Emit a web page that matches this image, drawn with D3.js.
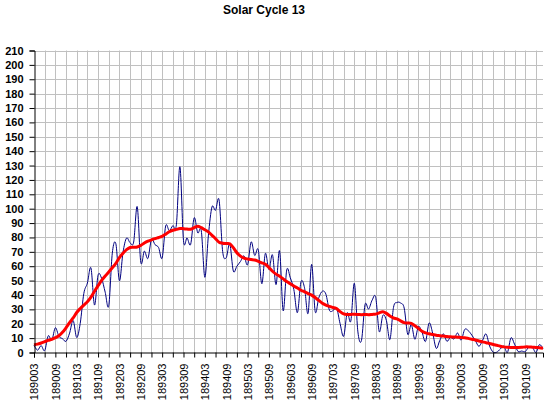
<!DOCTYPE html>
<html>
<head>
<meta charset="utf-8">
<script src="https://cdn.jsdelivr.net/npm/d3@7"></script>
<style>
  body { margin: 0; background: #fff; }
  text { font-family: "Liberation Sans", Arial, sans-serif; }
</style>
</head>
<body>
<div id="chart"></div>
<script>
// monthly sunspot numbers, 1890-03 .. 1902-02
const monthly = [
  5.1, 1.6, 4.8, 1.3, 11.6, 8.5, 17.2, 11.2, 9.6, 7.8,
  13.5, 22.2, 10.4, 20.5, 41.1, 48.3, 58.8, 33.0, 53.8, 51.5, 41.9, 32.5,
  69.1, 75.6, 49.9, 69.6, 79.6, 76.3, 76.8, 101.4, 62.8, 70.5, 65.4, 78.6,
  75.0, 73.0, 65.7, 88.1, 84.7, 88.2, 88.8, 129.2, 77.9, 79.7, 75.1, 93.7,
  83.2, 84.6, 52.3, 81.6, 101.2, 98.9, 106.0, 70.3, 65.9, 75.5, 56.6, 60.0,
  63.3, 67.2, 61.0, 76.9, 67.5, 71.5, 47.8, 68.9, 57.7, 67.9, 47.2, 70.7,
  29.0, 57.4, 52.0, 43.8, 27.7, 49.0, 45.0, 27.2, 61.3, 28.4, 38.0, 42.6,
  40.6, 29.4, 29.1, 31.0, 20.0, 11.3, 27.6, 21.8, 48.1, 14.3, 8.4, 33.3,
  30.2, 36.4, 38.3, 14.5, 25.8, 22.3, 9.0, 31.4, 34.8, 34.4, 30.9, 12.6,
  19.5, 9.2, 18.1, 14.2, 7.7, 20.5, 13.5, 2.9, 8.4, 13.0, 7.8, 10.5,
  9.4, 13.6, 8.6, 16.0, 15.2, 12.1, 8.3, 4.3, 8.3, 12.9, 4.5, 0.3,
  0.2, 2.4, 4.5, 0.0, 10.2, 5.8, 0.7, 1.0, 0.6, 3.7, 3.8, 0.0,
  5.5, 2.7
];

// 13-month smoothed values, same months
const smoothed = [
  5.3, 5.8, 6.6, 7.5, 8.4, 9.2, 10.3, 11.6, 14.0, 17.2,
  20.8, 24.0, 27.8, 30.6, 33.0, 35.3, 38.5, 42.6, 46.4, 50.1, 53.2, 56.0,
  58.9, 62.0, 66.0, 69.0, 71.5, 73.0, 73.2, 73.4, 74.5, 76.1, 77.4, 78.3,
  79.2, 80.0, 80.8, 82.3, 84.0, 85.0, 85.6, 86.2, 86.1, 85.8, 85.7, 86.8,
  87.8, 86.8, 85.3, 83.9, 81.5, 79.2, 76.6, 76.0, 75.8, 75.6, 72.9, 69.4,
  67.0, 65.6, 65.0, 64.6, 64.3, 63.4, 62.4, 61.3, 59.1, 56.5, 54.5, 53.0,
  51.2, 49.3, 47.8, 46.2, 44.8, 43.3, 42.2, 41.0, 39.9, 38.2, 36.2, 34.3,
  33.0, 32.1, 31.3, 30.5, 28.4, 26.8, 26.4, 26.5, 26.6, 26.5, 26.3, 26.4,
  26.3, 26.5, 26.7, 27.6, 28.3, 27.2, 25.4, 24.0, 23.4, 22.0, 20.8, 20.5,
  20.2, 18.6, 16.8, 14.8, 13.6, 13.0, 12.5, 12.0, 11.7, 11.4, 11.1, 10.9,
  10.8, 10.6, 10.5, 10.3, 9.8, 9.2, 8.7, 8.0, 7.4, 6.8, 6.3, 5.6,
  5.0, 4.4, 3.9, 3.6, 3.5, 3.5, 3.5, 3.6, 3.9, 3.9, 3.7, 3.5,
  3.3, 3.0
];

// labels shown every 6 months
const tickLabels = [
  "189003", "189009", "189103", "189109", "189203", "189209",
  "189303", "189309", "189403", "189409", "189503", "189509",
  "189603", "189609", "189703", "189709", "189803", "189809",
  "189903", "189909", "190003", "190009", "190103", "190109"
];

const yTicks = d3.range(0, 211, 10);

const W = 551, H = 413;
const margin = { top: 50, right: 8, bottom: 61, left: 34 };

const svg = d3.select("#chart").append("svg")
  .attr("width", W)
  .attr("height", H);

const x = d3.scaleLinear()
  .domain([0, monthly.length - 1])
  .range([margin.left, W - margin.right]);

const y = d3.scaleLinear()
  .domain([0, 210])
  .range([H - margin.bottom + 0.5, margin.top + 0.5]);

// title
svg.append("text")
  .attr("x", 264)
  .attr("y", 13.5)
  .attr("text-anchor", "middle")
  .style("font-size", "12px")
  .style("font-weight", "bold")
  .text("Solar Cycle 13");

// grid
const xTickIdx = d3.range(0, monthly.length, 3);

svg.append("g")
  .selectAll("line")
  .data(yTicks.slice(1))
  .join("line")
  .attr("x1", margin.left)
  .attr("x2", W - margin.right)
  .attr("y1", d => Math.round(y(d)) + 0.5)
  .attr("y2", d => Math.round(y(d)) + 0.5)
  .attr("stroke", "#c0c0c0");

svg.append("g")
  .selectAll("line")
  .data(xTickIdx.slice(1))
  .join("line")
  .attr("x1", d => Math.round(x(d)) + 0.5)
  .attr("x2", d => Math.round(x(d)) + 0.5)
  .attr("y1", y(210))
  .attr("y2", y(0))
  .attr("stroke", "#c0c0c0");

// lines
const line = d3.line()
  .x((d, i) => x(i))
  .y(d => y(d))
  .curve(d3.curveCardinal.tension(0));

svg.append("path")
  .datum(monthly)
  .attr("fill", "none")
  .attr("stroke", "#000080")
  .attr("stroke-width", 1)
  .attr("d", line);

svg.append("path")
  .datum(smoothed)
  .attr("fill", "none")
  .attr("stroke", "#ff0000")
  .attr("stroke-width", 3)
  .attr("d", line);

// axes
const yAxis = svg.append("g")
  .attr("transform", `translate(${margin.left + 0.5},0)`)
  .call(d3.axisLeft(y).tickValues(yTicks).tickSize(5).tickPadding(6));

yAxis.selectAll("text")
  .style("font-size", "11px")
  .style("font-weight", "bold")
  .attr("fill", "#000");

const xAxis = svg.append("g")
  .attr("transform", `translate(0,${y(0)})`)
  .call(d3.axisBottom(x)
    .tickValues(xTickIdx)
    .tickSize(5)
    .tickFormat(d => d % 6 === 0 ? tickLabels[d / 6] : ""));

xAxis.selectAll("text")
  .style("font-size", "11px")
  .attr("fill", "#000")
  .attr("text-anchor", "end")
  .attr("transform", "rotate(-90)")
  .attr("x", -11)
  .attr("y", 0)
  .attr("dy", "0.35em");

svg.selectAll(".domain").attr("stroke", "#000");
svg.selectAll(".tick line").attr("stroke", "#000");
</script>
</body>
</html>
